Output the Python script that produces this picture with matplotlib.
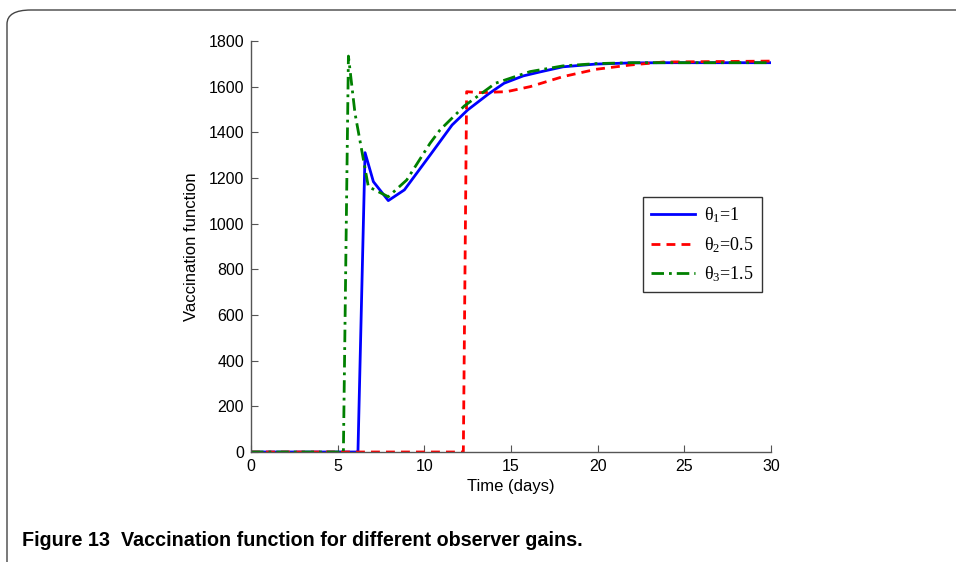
"""
Vaccination function for different observer gains (Figure 13).
"""

import matplotlib
matplotlib.use("Agg")
import matplotlib.pyplot as plt
from matplotlib.patches import FancyBboxPatch

# ── data ────────────────────────────────────────────────────────────
t_theta1 = [0, 6.17, 6.58, 7.06, 7.92, 8.85, 10.33, 11.6, 12.5, 13.7, 14.6,
            15.7, 16.7, 18.0, 19.9, 21.9, 24.0, 30.0]
v_theta1 = [0, 0, 1311, 1184, 1101, 1148, 1300, 1432, 1498, 1568, 1615,
            1647, 1665, 1687, 1699, 1704, 1705, 1705]

t_theta2 = [0, 12.25, 12.44, 13.2, 14.75, 16.1, 18.0, 19.9, 21.9, 23.8, 30.0]
v_theta2 = [0, 0, 1578, 1574, 1578, 1600, 1644, 1676, 1695, 1708, 1712]

t_theta3 = [0, 5.33, 5.62, 6.0, 6.77, 7.92, 8.98, 10.33, 10.9, 12.3, 14.1,
            16.1, 18.0, 19.9, 22.0, 30.0]
v_theta3 = [0, 0, 1734, 1483, 1162, 1118, 1191, 1352, 1410, 1515, 1615,
            1666, 1691, 1701, 1705, 1705]

labels = ["θ$_{1}$=1", "θ$_{2}$=0.5", "θ$_{3}$=1.5"]
x_ticks = [0, 5, 10, 15, 20, 25, 30]
y_ticks = [0, 200, 400, 600, 800, 1000, 1200, 1400, 1600, 1800]

caption = "Figure 13  Vaccination function for different observer gains."

# ── styling ─────────────────────────────────────────────────────────
plt.rcParams["font.family"] = ["Liberation Sans", "DejaVu Sans"]
plt.rcParams["mathtext.fontset"] = "custom"
plt.rcParams["mathtext.rm"] = "Liberation Serif"
plt.rcParams["mathtext.it"] = "Liberation Serif"
plt.rcParams["mathtext.default"] = "rm"

fig = plt.figure(figsize=(9.56, 5.62), dpi=100)

# page frame with rounded top-left corner
frame = FancyBboxPatch((7 / 956, -0.2), 1.2, 1.2 - 10 / 562,
                       boxstyle="round,pad=0,rounding_size=0.025",
                       transform=fig.transFigure, fill=False,
                       edgecolor="#444444", linewidth=1.0)
fig.patches.append(frame)

ax = fig.add_axes([251 / 956, 110 / 562, 520 / 956, 411 / 562])

ax.plot(t_theta1, v_theta1, color=(0, 0, 1), lw=2.0, ls="-", label=labels[0])
ax.plot(t_theta2, v_theta2, color=(1, 0, 0), lw=2.0, ls=(0, (3.2, 2.2)), label=labels[1])
ax.plot(t_theta3, v_theta3, color=(0, 0.5, 0), lw=2.0,
        ls=(0, (4.5, 1.8, 1, 1.8)), label=labels[2])

ax.set_xlim(0, 30)
ax.set_ylim(0, 1800)
ax.set_xticks(x_ticks)
ax.set_yticks(y_ticks)
ax.spines["top"].set_visible(False)
ax.spines["right"].set_visible(False)
for s in ("left", "bottom"):
    ax.spines[s].set_color("#555555")
    ax.spines[s].set_linewidth(1.0)
ax.tick_params(direction="in", length=5, width=0.8, color="#555555",
               labelsize=11.5, pad=5)

ax.set_xlabel("Time (days)", fontsize=12, labelpad=4)
ax.set_ylabel("Vaccination function", fontsize=12, labelpad=7)

leg = ax.legend(loc="upper left", bbox_to_anchor=(0.754, 0.62),
                prop={"family": "Liberation Serif", "size": 13},
                frameon=True, fancybox=False, edgecolor="black",
                handlelength=2.4, labelspacing=0.55, borderpad=0.45,
                handletextpad=0.55, borderaxespad=0)
leg.get_frame().set_linewidth(1.0)

fig.text(22 / 956, 1 - 541 / 562, caption, fontsize=14.2, fontweight="bold",
         va="center", ha="left")

fig.savefig("out.png", dpi=100)
